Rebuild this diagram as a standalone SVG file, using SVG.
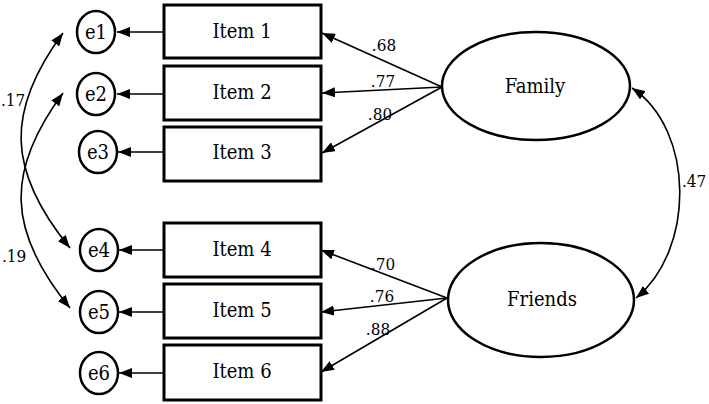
<svg xmlns="http://www.w3.org/2000/svg" width="709" height="404" viewBox="0 0 709 404">
<defs>
<marker id="ah" viewBox="0 0 13 10" refX="13" refY="5" markerWidth="13" markerHeight="10" markerUnits="userSpaceOnUse" orient="auto-start-reverse">
<path d="M0,0 L13,5 L0,10 z" fill="#000"/>
</marker>
<style>
.box{fill:#fff;stroke:#000;stroke-width:3}
.err{fill:#fff;stroke:#000;stroke-width:2.5}
.lat{fill:#fff;stroke:#000;stroke-width:2.5}
text{font-family:'DejaVu Serif Condensed','DejaVu Serif','Liberation Serif',serif}
.lbl{font-size:20px;fill:#000;text-anchor:middle}
.num{font-size:17px;fill:#000}
.c{fill:none;stroke:#000;stroke-width:1.6}
.a{marker-end:url(#ah)}
.d{marker-start:url(#ah);marker-end:url(#ah)}
</style>
</defs>
<rect width="709" height="404" fill="#fff"/>
<g id="connectors">
<line class="c a" x1="164" y1="32" x2="117" y2="32"/>
<line class="c a" x1="164" y1="94" x2="117" y2="94"/>
<line class="c a" x1="166" y1="152" x2="118" y2="152"/>
<line class="c a" x1="166" y1="250" x2="119" y2="250"/>
<line class="c a" x1="164" y1="312" x2="119" y2="312"/>
<line class="c a" x1="166" y1="373" x2="119" y2="373"/>
<line class="c a" x1="442" y1="87" x2="322" y2="33"/>
<line class="c a" x1="442" y1="87" x2="322" y2="93"/>
<line class="c a" x1="442" y1="87" x2="322" y2="153"/>
<line class="c a" x1="447" y1="298" x2="321" y2="250"/>
<line class="c a" x1="447" y1="298" x2="321" y2="312"/>
<line class="c a" x1="447" y1="298" x2="321" y2="372"/>
<path class="c d" d="M63,33 C6,110 6,170 70,248"/>
<path class="c d" d="M63,93 C6,170 6,230 70,308"/>
<path class="c d" d="M632,88 C695,130 695,250 636,298"/>
<text class="num" x="384" y="51" text-anchor="middle">.68</text>
<text class="num" x="383" y="87" text-anchor="middle">.77</text>
<text class="num" x="380" y="120" text-anchor="middle">.80</text>
<text class="num" x="383" y="270" text-anchor="middle">.70</text>
<text class="num" x="382" y="302" text-anchor="middle">.76</text>
<text class="num" x="378" y="335" text-anchor="middle">.88</text>
<text class="num" x="1" y="106">.17</text>
<text class="num" x="2" y="262">.19</text>
<text class="num" x="682" y="187">.47</text>
</g>
<g id="item1"><rect class="box" x="164" y="5" width="157" height="53"/><text class="lbl" x="242" y="38">Item 1</text></g>
<g id="item2"><rect class="box" x="164" y="66" width="157" height="54"/><text class="lbl" x="242" y="99">Item 2</text></g>
<g id="item3"><rect class="box" x="164" y="127" width="157" height="54"/><text class="lbl" x="242" y="159">Item 3</text></g>
<g id="item4"><rect class="box" x="164" y="223" width="157" height="54"/><text class="lbl" x="242" y="256">Item 4</text></g>
<g id="item5"><rect class="box" x="164" y="284" width="157" height="54"/><text class="lbl" x="242" y="317">Item 5</text></g>
<g id="item6"><rect class="box" x="164" y="345" width="157" height="55"/><text class="lbl" x="242" y="378">Item 6</text></g>
<g id="e1"><ellipse class="err" cx="96" cy="32" rx="19" ry="21"/><text class="lbl" x="96" y="39">e1</text></g>
<g id="e2"><ellipse class="err" cx="96" cy="94" rx="19" ry="21"/><text class="lbl" x="96" y="101">e2</text></g>
<g id="e3"><ellipse class="err" cx="98" cy="152" rx="19" ry="21"/><text class="lbl" x="98" y="159">e3</text></g>
<g id="e4"><ellipse class="err" cx="99" cy="250" rx="19" ry="21"/><text class="lbl" x="99" y="257">e4</text></g>
<g id="e5"><ellipse class="err" cx="99" cy="312" rx="19" ry="21"/><text class="lbl" x="99" y="319">e5</text></g>
<g id="e6"><ellipse class="err" cx="99" cy="373" rx="19" ry="21"/><text class="lbl" x="99" y="380">e6</text></g>
<g id="family"><ellipse class="lat" cx="536" cy="86" rx="94" ry="54"/><text class="lbl" x="535" y="93">Family</text></g>
<g id="friends"><ellipse class="lat" cx="541" cy="300" rx="93" ry="57"/><text class="lbl" x="542" y="306">Friends</text></g>
</svg>
